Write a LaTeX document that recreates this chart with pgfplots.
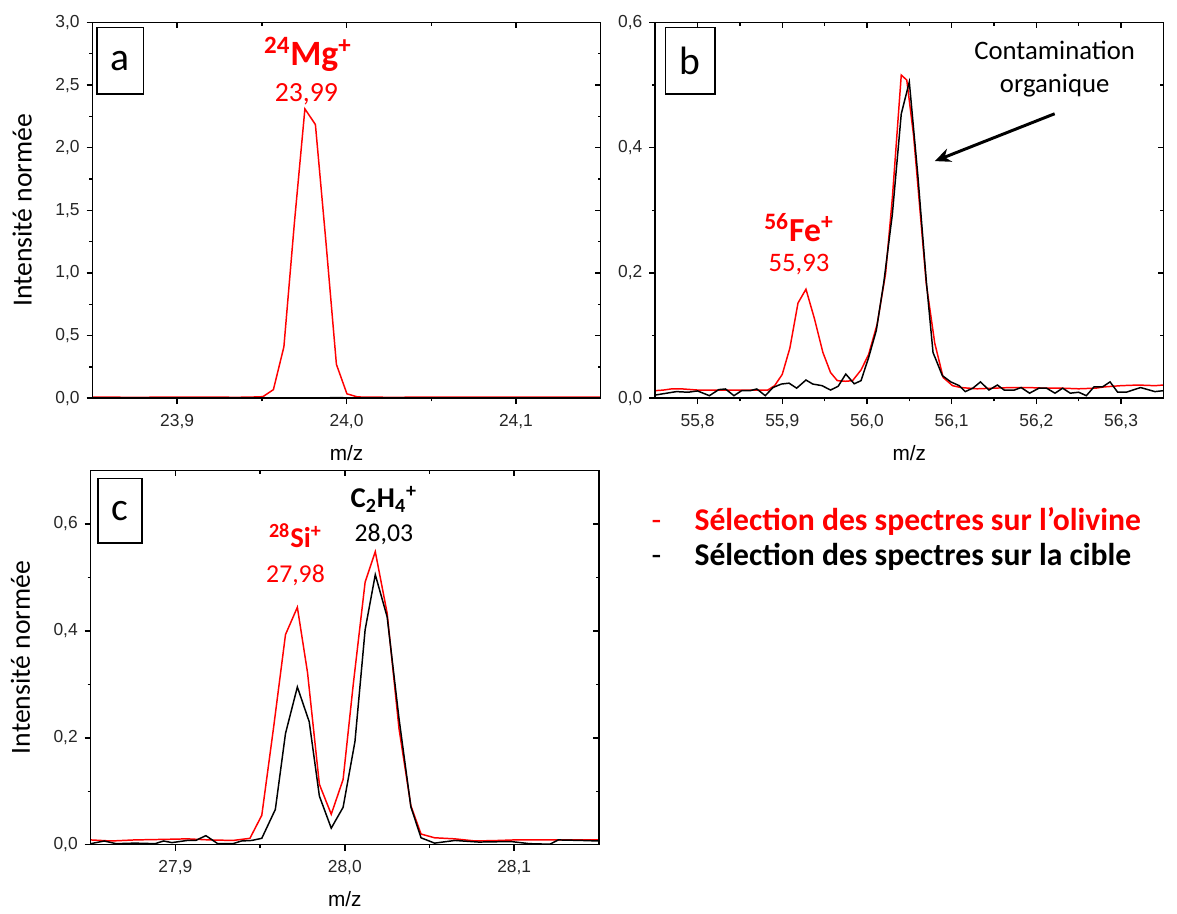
\documentclass[border=0pt]{standalone}
\usepackage{pgfplots}
\pgfplotsset{compat=1.18}
\usetikzlibrary{arrows.meta}
\usepackage{fontspec}
\setmainfont{Liberation Sans}
\newfontfamily\calfont{Carlito}
\definecolor{myred}{RGB}{255,0,0}

\pgfplotsset{
 panel/.style={
  scale only axis, width=257pt, height=190pt,
  axis line style={line width=0.75pt},
  every tick/.style={line width=0.75pt, black},
  major tick length=3pt, minor tick length=1.6pt,
  tick label style={font=\fontsize{8.8}{10}\selectfont, text=black!85},
  xticklabel style={yshift=-1.5pt, /pgf/number format/.cd, use comma, fixed, fixed zerofill, precision=1, assume math mode=true},
  yticklabel style={/pgf/number format/.cd, use comma, fixed, fixed zerofill, precision=1, assume math mode=true},
  xlabel style={font=\fontsize{10.5}{12}\selectfont},
  xlabel shift=1.5pt,
  ylabel style={font=\calfont\fontsize{14}{16}\selectfont},
  ylabel shift=5pt,
 },
 outerticks/.style={tick align=outside, xtick pos=left, ytick pos=left},
 innerticks/.style={tick align=inside, xtick pos=right, ytick pos=right, xticklabels={}, yticklabels={}},
 redline/.style={color=myred, line width=0.75pt, mark=none},
 blackline/.style={color=black, line width=0.75pt, mark=none},
 pA/.style={xmin=23.85, xmax=24.15, ymin=0, ymax=3,
   xtick={23.9,24.0,24.1}, minor xtick={23.95,24.05},
   ytick={0,0.5,1,1.5,2,2.5,3}, minor ytick={0.25,0.75,1.25,1.75,2.25,2.75}},
 pB/.style={xmin=55.75, xmax=56.35, ymin=0, ymax=0.6,
   xtick={55.8,55.9,56.0,56.1,56.2,56.3}, minor xtick={55.85,55.95,56.05,56.15,56.25},
   ytick={0,0.2,0.4,0.6}, minor ytick={0.1,0.3,0.5}},
 pC/.style={xmin=27.85, xmax=28.15, ymin=0, ymax=0.7,
   xtick={27.9,28.0,28.1}, minor xtick={27.95,28.05},
   ytick={0,0.2,0.4,0.6}, minor ytick={0.1,0.3,0.5}},
}

\begin{document}
\begin{tikzpicture}
\path (0,0) rectangle (588.5pt,457.5pt);

% ---------------- panel a
\begin{axis}[panel, pA, outerticks, at={(46.75pt,256.15pt)}, anchor=south west,
  xlabel={m/z}, ylabel={Intensité normée}]
\addplot[redline] coordinates {
(23.850,0.008) (23.860,0.008) (23.875,0.007) (23.890,0.008) (23.905,0.008) (23.920,0.009)
(23.935,0.007) (23.944,0.009) (23.9506,0.012) (23.9568,0.068) (23.9630,0.41) (23.9692,1.40)
(23.9754,2.31) (23.9816,2.185) (23.9878,1.25) (23.9940,0.27) (24.0002,0.035) (24.0064,0.010)
(24.015,0.008) (24.030,0.007) (24.045,0.009) (24.060,0.008) (24.080,0.009) (24.100,0.008)
(24.120,0.008) (24.135,0.009) (24.150,0.008)};
\addplot[blackline] coordinates {
(23.850,0.001) (23.900,0.001) (23.930,0.003) (23.945,0.002) (23.960,0.001) (23.995,0.004)
(24.010,0.002) (24.050,0.001) (24.100,0.001) (24.150,0.001)};
\node[draw, line width=0.75pt, minimum width=23.5pt, minimum height=33.5pt, inner sep=0pt,
  font=\calfont\fontsize{20}{22}\selectfont] at (rel axis cs:0.0544,0.898) {a};
\node[text=myred, font=\calfont\bfseries\fontsize{18}{20}\selectfont] at (rel axis cs:0.424,0.915)
  {\textsuperscript{24}Mg\textsuperscript{+}};
\node[text=myred, font=\calfont\fontsize{14}{16}\selectfont] at (rel axis cs:0.421,0.81) {23,99};
\end{axis}
\begin{axis}[panel, pA, innerticks, at={(46.75pt,256.15pt)}, anchor=south west]
\end{axis}

% ---------------- panel b
\begin{axis}[panel, pB, outerticks, at={(331.3pt,256.15pt)}, anchor=south west,
  xlabel={m/z}]
\addplot[redline] coordinates {
(55.750,0.012) (55.760,0.013) (55.770,0.015) (55.780,0.015) (55.790,0.014) (55.800,0.013)
(55.820,0.013) (55.840,0.013) (55.860,0.013) (55.875,0.013) (55.883,0.013) (55.891,0.020)
(55.900,0.038) (55.909,0.080) (55.9186,0.152) (55.928,0.174) (55.938,0.127) (55.948,0.073)
(55.957,0.041) (55.965,0.028) (55.975,0.027) (55.983,0.028) (55.993,0.045) (56.002,0.070)
(56.012,0.118) (56.022,0.199) (56.030,0.320) (56.0405,0.516) (56.047,0.508) (56.055,0.420)
(56.062,0.310) (56.070,0.183) (56.080,0.088) (56.090,0.033) (56.101,0.020) (56.111,0.017)
(56.120,0.016) (56.130,0.015) (56.150,0.016) (56.170,0.017) (56.190,0.017) (56.210,0.016)
(56.230,0.016) (56.250,0.015) (56.270,0.016) (56.280,0.018) (56.300,0.020) (56.320,0.021)
(56.340,0.020) (56.350,0.021)};
\addplot[blackline] coordinates {
(55.750,0.005) (55.775,0.0105) (55.789,0.0095) (55.800,0.0116) (55.814,0.004) (55.825,0.0137)
(55.833,0.0147) (55.843,0.004) (55.852,0.012) (55.862,0.012) (55.870,0.0147) (55.880,0.004)
(55.889,0.017) (55.899,0.0226) (55.908,0.024) (55.917,0.016) (55.928,0.029) (55.936,0.0226)
(55.947,0.020) (55.957,0.013) (55.966,0.019) (55.975,0.0385) (55.985,0.023) (55.993,0.028)
(56.002,0.065) (56.011,0.108) (56.020,0.186) (56.030,0.294) (56.0405,0.454) (56.050,0.505)
(56.060,0.357) (56.070,0.188) (56.078,0.073) (56.089,0.036) (56.099,0.026) (56.109,0.020)
(56.116,0.0105) (56.125,0.016) (56.134,0.026) (56.144,0.013) (56.154,0.021) (56.162,0.013)
(56.174,0.013) (56.182,0.017) (56.192,0.008) (56.203,0.016) (56.212,0.016) (56.222,0.008)
(56.231,0.016) (56.240,0.008) (56.250,0.0095) (56.259,0.004) (56.268,0.018) (56.278,0.018)
(56.287,0.026) (56.296,0.0095) (56.306,0.0095) (56.323,0.017) (56.340,0.0105) (56.350,0.012)};
\node[draw, line width=0.75pt, minimum width=25pt, minimum height=33.5pt, inner sep=0pt,
  font=\calfont\fontsize{20}{22}\selectfont] at (rel axis cs:0.069,0.898) {b};
\node[align=center, font=\calfont\fontsize{13.5}{17}\selectfont] at (rel axis cs:0.786,0.8755)
  {Contamination\\organique};
\draw[-{Stealth[length=8pt,width=7pt]}, line width=1.5pt] (rel axis cs:0.786,0.757) -- (rel axis cs:0.550,0.631);
\node[text=myred, font=\calfont\bfseries\fontsize{17}{20}\selectfont] at (rel axis cs:0.283,0.4545)
  {\textsuperscript{56}Fe\textsuperscript{+}};
\node[text=myred, font=\calfont\fontsize{13.5}{16}\selectfont] at (rel axis cs:0.283,0.357) {55,93};
\end{axis}
\begin{axis}[panel, pB, innerticks, at={(331.3pt,256.15pt)}, anchor=south west]
\end{axis}

% ---------------- panel c
\begin{axis}[panel, pC, outerticks, height=189.3pt, at={(45.85pt,30.35pt)}, anchor=south west,
  xlabel={m/z}, ylabel={Intensité normée}]
\addplot[redline] coordinates {
(27.850,0.009) (27.862,0.007) (27.876,0.009) (27.893,0.010) (27.907,0.011) (27.920,0.009)
(27.934,0.008) (27.944,0.012) (27.951,0.055) (27.958,0.220) (27.965,0.393) (27.972,0.444)
(27.978,0.322) (27.985,0.113) (27.992,0.057) (27.999,0.122) (28.005,0.300) (28.012,0.491)
(28.018,0.548) (28.025,0.433) (28.032,0.217) (28.039,0.073) (28.045,0.020) (28.053,0.013)
(28.065,0.011) (28.077,0.007) (28.091,0.008) (28.100,0.009) (28.112,0.009) (28.126,0.009)
(28.140,0.009) (28.150,0.009)};
\addplot[blackline] coordinates {
(27.850,0.002) (27.858,0.007) (27.865,0.002) (27.876,0.003) (27.888,0.002) (27.893,0.007)
(27.898,0.004) (27.907,0.008) (27.912,0.008) (27.918,0.017) (27.925,0.002) (27.934,0.002)
(27.939,0.007) (27.945,0.008) (27.951,0.012) (27.959,0.066) (27.965,0.208) (27.972,0.295)
(27.979,0.230) (27.985,0.091) (27.992,0.031) (27.999,0.070) (28.006,0.193) (28.012,0.402)
(28.018,0.505) (28.025,0.426) (28.032,0.236) (28.039,0.071) (28.045,0.013) (28.053,0.003)
(28.065,0.008) (28.079,0.005) (28.098,0.006) (28.109,0.002) (28.121,0.001) (28.126,0.009)
(28.140,0.008) (28.150,0.007)};
\node[draw, line width=0.75pt, minimum width=22.25pt, minimum height=32.5pt, inner sep=0pt,
  font=\calfont\fontsize{20}{22}\selectfont] at (rel axis cs:0.0577,0.892) {c};
\node[font=\calfont\bfseries\fontsize{14.5}{17}\selectfont] at (rel axis cs:0.577,0.9226)
  {C\textsubscript{2}H\textsubscript{4}\textsuperscript{+}};
\node[font=\calfont\fontsize{13}{16}\selectfont] at (rel axis cs:0.577,0.830) {28,03};
\node[text=myred, font=\calfont\bfseries\fontsize{14.5}{17}\selectfont] at (rel axis cs:0.403,0.825)
  {\textsuperscript{28}Si\textsuperscript{+}};
\node[text=myred, font=\calfont\fontsize{13}{16}\selectfont] at (rel axis cs:0.403,0.719) {27,98};
\end{axis}
\begin{axis}[panel, pC, innerticks, height=189.3pt, at={(45.85pt,30.35pt)}, anchor=south west]
\end{axis}

% ---------------- legend
\node[anchor=base, text=myred, font=\calfont\fontsize{16}{18}\selectfont] at (332pt,189pt) {-};
\node[anchor=base west, inner sep=0pt, text=myred, font=\calfont\bfseries\fontsize{16}{18}\selectfont] at (351pt,189pt)
  {Sélection des spectres sur l’olivine};
\node[anchor=base, font=\calfont\fontsize{16}{18}\selectfont] at (332pt,171.5pt) {-};
\node[anchor=base west, inner sep=0pt, font=\calfont\bfseries\fontsize{16}{18}\selectfont] at (351pt,171.5pt)
  {Sélection des spectres sur la cible};
\end{tikzpicture}
\end{document}
